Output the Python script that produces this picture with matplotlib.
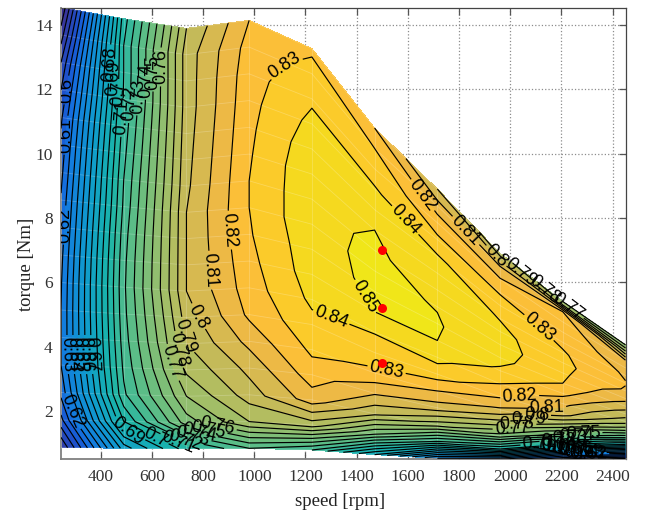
import numpy as np
import matplotlib
matplotlib.use("Agg")
import matplotlib.pyplot as plt
from matplotlib.colors import LinearSegmentedColormap, Normalize

plt.rcParams["font.family"] = ["Liberation Sans", "DejaVu Sans"]

# measurement mesh: 10 speeds, 17 torque steps as fractions of max torque
speed = [245, 490, 735, 980, 1225, 1470, 1715, 1960, 2205, 2450]
max_torque = [14.55, 14.2, 13.9, 14.15, 13.27, 10.8, 8.9, 6.9, 5.4, 4.05]
n_steps = 17

# efficiency per speed, lowest torque step first
eff_245 = [.57, .597, .613, .62, .62, .62, .619, .617, .614, .611, .607, .603, .598, .59, .58, .565, .55]
eff_490 = [.665, .70, .718, .722, .725, .727, .728, .727, .725, .722, .72, .717, .714, .711, .71, .71, .705]
eff_735 = [.705, .755, .77, .782, .79, .795, .80, .80, .80, .80, .798, .797, .796, .795, .795, .795, .79]
eff_980 = [.73, .78, .795, .803, .813, .822, .825, .827, .829, .83, .83, .829, .828, .827, .826, .824, .82]
eff_1225 = [.72, .785, .815, .825, .832, .837, .842, .845, .846, .848, .848, .848, .846, .8425, .8385, .834, .828]
eff_1470 = [.68, .75, .792, .811, .828, .835, .8405, .85, .852, .8515, .851, .85, .845, .841, .835, .83, .82]
eff_1715 = [.63, .72, .775, .805, .82, .835, .843, .85, .8508, .8496, .847, .845, .841, .832, .825, .815, .80]
eff_1960 = [.60, .70, .755, .785, .808, .821, .83, .8385, .843, .8445, .8425, .8395, .835, .829, .821, .81, .785]
eff_2205 = [.55, .62, .70, .75, .78, .805, .813, .823, .83, .832, .833, .831, .828, .826, .824, .82, .76]
eff_2450 = [.50, .57, .63, .69, .735, .765, .785, .795, .805, .813, .819, .8205, .819, .815, .81, .785, .76]

levels = [round(0.55 + 0.01 * i, 2) for i in range(31)]

# colours
color_values = [.50, .56, .60, .62, .66, .70, .74, .78, .80, .82, .83, .84, .855]
band_colors = ["#2a1f78", "#3c3296", "#1955d2", "#1478e1", "#0f9bcd", "#19b4aa", "#64be82",
               "#aabe64", "#cdb955", "#f5b941", "#ffc332", "#f8d223", "#f0e619"]

# contour labels: level, speed, torque
labels = [
    (.83, 1147, 12.54), (.82, 1647, 8.65), (.81, 1816, 7.53), (.80, 1940, 6.78),
    (.79, 2030, 6.22), (.78, 2124, 5.66), (.77, 2225, 5.23), (.84, 1569, 7.78),
    (.85, 1421, 5.5), (.84, 1296, 4.82), (.83, 1518, 3.33), (.83, 2104, 4.51),
    (.82, 2037, 2.4), (.82, 897, 7.62), (.81, 835, 6.38), (.80, 768, 4.89),
    (.79, 710, 4.3), (.78, 678, 3.83), (.77, 640, 3.42), (.76, 620, 12.7),
    (.75, 565, 12.54), (.74, 534, 12.29), (.73, 526, 11.8), (.72, 495, 11.57),
    (.71, 463, 11.14), (.70, 448, 11.88), (.69, 428, 12.35), (.68, 417, 12.8),
    (.60, 268, 11.98), (.61, 260, 10.58), (.62, 260, 7.78), (.62, 272, 1.93),
    (.63, 275, 3.75), (.64, 300, 3.75), (.65, 320, 3.75), (.66, 345, 3.75), (.67, 365, 3.75),
    (.69, 494, 1.19), (.70, 604, 1.0), (.71, 702, 1.03), (.72, 741, 1.3),
    (.73, 760, 1.25), (.74, 780, 1.18), (.75, 815, 1.18), (.76, 855, 1.46),
    (.81, 2143, 2.03), (.80, 2103, 1.97), (.79, 2070, 1.87), (.78, 2026, 1.65),
    (.77, 2006, 1.5), (.75, 2284, 1.3), (.74, 2260, 1.25), (.73, 2233, 1.19),
    (.72, 2190, 1.05), (.71, 2115, 1.0), (.70, 2170, 0.95), (.69, 2190, 0.9),
    (.68, 2210, 0.85), (.67, 2230, 0.8), (.66, 2250, 0.75), (.65, 2260, 0.72),
    (.64, 2280, 0.68), (.63, 2300, 0.64), (.62, 2310, 0.6),
]

points_speed = [1500, 1500, 1500]
points_torque = [7.0, 5.2, 3.5]

eff = np.column_stack([eff_245, eff_490, eff_735, eff_980, eff_1225,
                       eff_1470, eff_1715, eff_1960, eff_2205, eff_2450])
fractions = np.arange(1, n_steps + 1) / n_steps
Y = np.outer(fractions, max_torque)
X = np.tile(speed, (n_steps, 1))

cmap = LinearSegmentedColormap.from_list(
    "parula_old",
    [((v - color_values[0]) / (color_values[-1] - color_values[0]), c)
     for v, c in zip(color_values, band_colors)])
norm = Normalize(color_values[0], color_values[-1])

fig = plt.figure(figsize=(6.47, 5.14), dpi=100)
ax = fig.add_axes([61 / 647, 1 - 459 / 514, 564.5 / 647, 451.5 / 514])

fill_levels = [0.4] + levels + [0.87]
ax.contourf(X, Y, eff, levels=fill_levels, cmap=cmap, norm=norm, zorder=2)

# faint mesh showing through the surface
ax.plot(X.T, Y.T, color="white", lw=0.6, alpha=0.22, zorder=3)
ax.plot(X, Y, color="white", lw=0.6, alpha=0.22, zorder=3)

ax.set_xlim(245, 2450)
ax.set_ylim(0.5, 14.55)

# one contour set per level so each label lands on its own level
for lev in levels:
    cs = ax.contour(X, Y, eff, levels=[lev], colors="black", linewidths=0.85, zorder=4)
    spots = [(sx, ty) for l, sx, ty in labels if l == lev]
    if spots:
        texts = ax.clabel(cs, manual=spots, fontsize=13, fmt="%.4g", inline=True, inline_spacing=2)
        # the labels along the left edge read upwards
        for text, (sx, ty) in zip(texts, spots):
            if sx < 300 and ty > 5:
                text.set_rotation(90)

ax.plot(points_speed, points_torque, "o", color="red", ms=6.5, mew=0, zorder=6)

ax.set_xlim(245, 2450)
ax.set_ylim(0.5, 14.55)
ax.set_xticks(range(400, 2401, 200))
ax.set_yticks(range(2, 15, 2))
ax.grid(True, color="#8c8c8c", ls=":", lw=0.9, zorder=1)
ax.set_axisbelow(True)
ax.tick_params(direction="in", top=True, right=True, length=5, width=0.9, color="#555555",
               labelcolor="#333333", pad=6)
ax.tick_params(axis="x", pad=7)
for lab in ax.get_xticklabels() + ax.get_yticklabels():
    lab.set_fontfamily("Liberation Serif")
    lab.set_fontsize(12.5)
ax.set_xlabel("speed [rpm]", family="Liberation Serif", fontsize=13.5, color="#222222")
ax.set_ylabel("torque [Nm]", family="Liberation Serif", fontsize=13.5, color="#222222")
ax.xaxis.set_label_coords(0.494, -0.075)
ax.yaxis.set_label_coords(-0.046, 0.43)
for side in ["left", "bottom"]:
    ax.spines[side].set_color("#808080")
    ax.spines[side].set_linewidth(1.3)
for side in ["top", "right"]:
    ax.spines[side].set_color("#444444")
    ax.spines[side].set_linewidth(0.9)

fig.savefig("out.png", dpi=100)
